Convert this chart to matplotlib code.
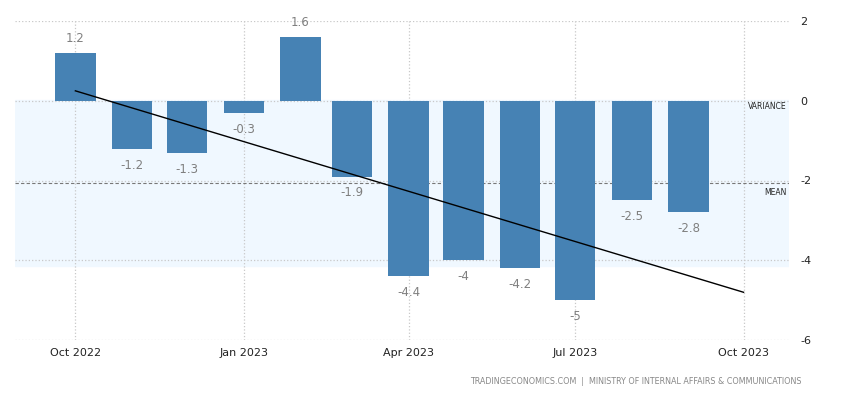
import matplotlib
matplotlib.use('Agg')
import matplotlib.pyplot as plt
import numpy as np
import datetime as dt

# Data
months = ['2022-10', '2022-11', '2022-12', '2023-01', '2023-02', '2023-03',
          '2023-04', '2023-05', '2023-06', '2023-07', '2023-08', '2023-09']
values = [1.2, -1.2, -1.3, -0.3, 1.6, -1.9, -4.4, -4, -4.2, -5, -2.5, -2.8]
tick_months = ['2022-10', '2023-01', '2023-04', '2023-07', '2023-10']
tick_labels = ['Oct 2022', 'Jan 2023', 'Apr 2023', 'Jul 2023', 'Oct 2023']
yticks = [2, 0, -2, -4, -6]
source = 'TRADINGECONOMICS.COM  |  MINISTRY OF INTERNAL AFFAIRS & COMMUNICATIONS'

def to_date(s):
    y, m = s.split('-')
    return dt.date(int(y), int(m), 1)

dates = [to_date(m) for m in months]
tdates = [to_date(m) for m in tick_months]
vals = np.array(values)

fig = plt.figure(figsize=(8.5, 4), dpi=100)
ax = fig.add_axes([0.0176, 0.15, 0.911, 0.7975])

bar_color = '#4682b4'
mean = vals.mean()
std = vals.std()

# variance band and mean line
ax.axhspan(mean - std, mean + std, color='#f0f8ff', zorder=0)
ax.axhline(mean, color='#777777', linestyle=(0, (3, 2)), linewidth=0.8, zorder=1)

ax.bar(dates, vals, width=22, color=bar_color, zorder=2)

# trend line
x_num = np.arange(len(vals))
k, b = np.polyfit(x_num, vals, 1)
trend_x = [dates[0], tdates[-1]]
ax.plot(trend_x, [b, b + k * 12], color='black', linewidth=1, zorder=3)

# value labels
for d, v in zip(dates, vals):
    lab = ('%g' % v)
    if v >= 0:
        ax.text(d, v + 0.2, lab, ha='center', va='bottom', color='#7f7f7f', fontsize=8.5)
    else:
        ax.text(d, v - 0.25, lab, ha='center', va='top', color='#7f7f7f', fontsize=8.5)

ax.set_xlim(dt.date(2022, 8, 29), dt.date(2023, 10, 26))
ax.set_ylim(-6, 2.0)
ax.set_xticks(tdates)
ax.set_xticklabels(tick_labels)
ax.set_yticks(yticks)
ax.set_yticklabels([str(t) for t in yticks])
ax.yaxis.tick_right()
ax.tick_params(axis='both', length=0, labelsize=8, colors='#222222')
ax.tick_params(axis='y', pad=8)
ax.tick_params(axis='x', pad=6)
ax.grid(True, color='#c8c8c8', linestyle=':', linewidth=0.9)
ax.set_axisbelow(True)
for s in ax.spines.values():
    s.set_visible(False)

ax.text(0.997, -0.04, 'VARIANCE', transform=ax.get_yaxis_transform(), ha='right', va='top',
        fontsize=5.5, color='#222222')
ax.text(0.997, mean - 0.12, 'MEAN', transform=ax.get_yaxis_transform(), ha='right', va='top',
        fontsize=5.5, color='#222222')

fig.text(0.943, 0.045, source, ha='right', va='center', fontsize=5.8, color='#888888')

fig.savefig('out.png', dpi=100)
